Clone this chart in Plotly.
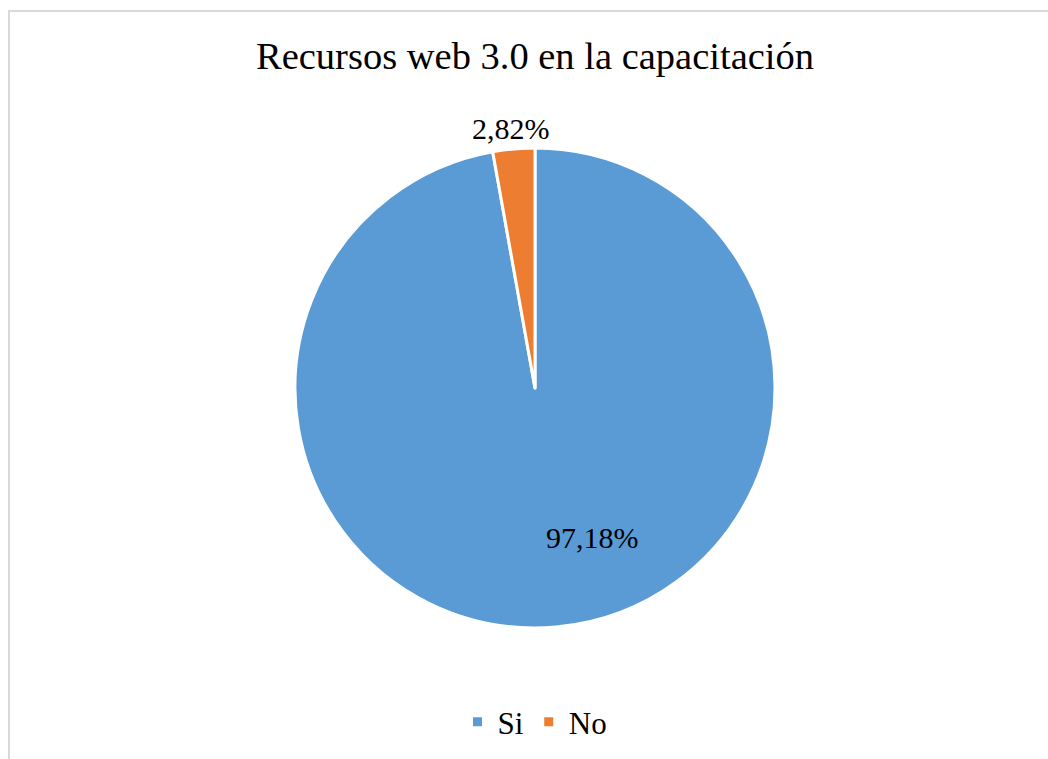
import plotly.graph_objects as go

categories = ["Si", "No"]
values = [97.18, 2.82]
colors = ["#5B9BD5", "#ED7D31"]
title_text = "Recursos web 3.0 en la capacitación"

W, H = 1048, 759
FONT = "Liberation Serif"

def fmt(v):
    return f"{v:.2f}".replace(".", ",") + "%"

fig = go.Figure(go.Pie(
    labels=categories,
    values=values,
    sort=False,
    direction="clockwise",
    rotation=0,
    marker=dict(colors=colors, line=dict(color="white", width=3)),
    textinfo="none",
    hoverinfo="label+percent",
    domain=dict(x=[295 / W, 775 / W], y=[1 - 628 / H, 1 - 148 / H]),
))

label_pos = {"Si": (592, 537), "No": (511, 128)}
annotations = []
for c, v in zip(categories, values):
    px, py = label_pos[c]
    annotations.append(dict(
        x=px / W, y=1 - py / H, xref="paper", yref="paper",
        text=fmt(v), showarrow=False,
        font=dict(family=FONT, size=30, color="#000000"),
        xanchor="center", yanchor="middle",
    ))
annotations.append(dict(
    x=535 / W, y=1 - 56 / H, xref="paper", yref="paper",
    text=title_text, showarrow=False,
    font=dict(family=FONT, size=38.5, color="#000000"),
    xanchor="center", yanchor="middle",
))

fig.update_layout(
    width=W, height=H,
    margin=dict(l=0, r=0, t=0, b=0),
    paper_bgcolor="white",
    plot_bgcolor="white",
    annotations=annotations,
    showlegend=True,
    legend=dict(
        orientation="h",
        x=535 / W, y=1 - 722 / H, xanchor="center", yanchor="middle",
        font=dict(family=FONT, size=31, color="#000000"),
        itemwidth=30,
    ),
    shapes=[dict(
        type="rect", xref="paper", yref="paper",
        x0=9 / W, x1=1.02, y0=-0.02, y1=1 - 11 / H,
        line=dict(color="#D9D9D9", width=2), layer="below",
    )],
)

fig.write_html("out.html")
